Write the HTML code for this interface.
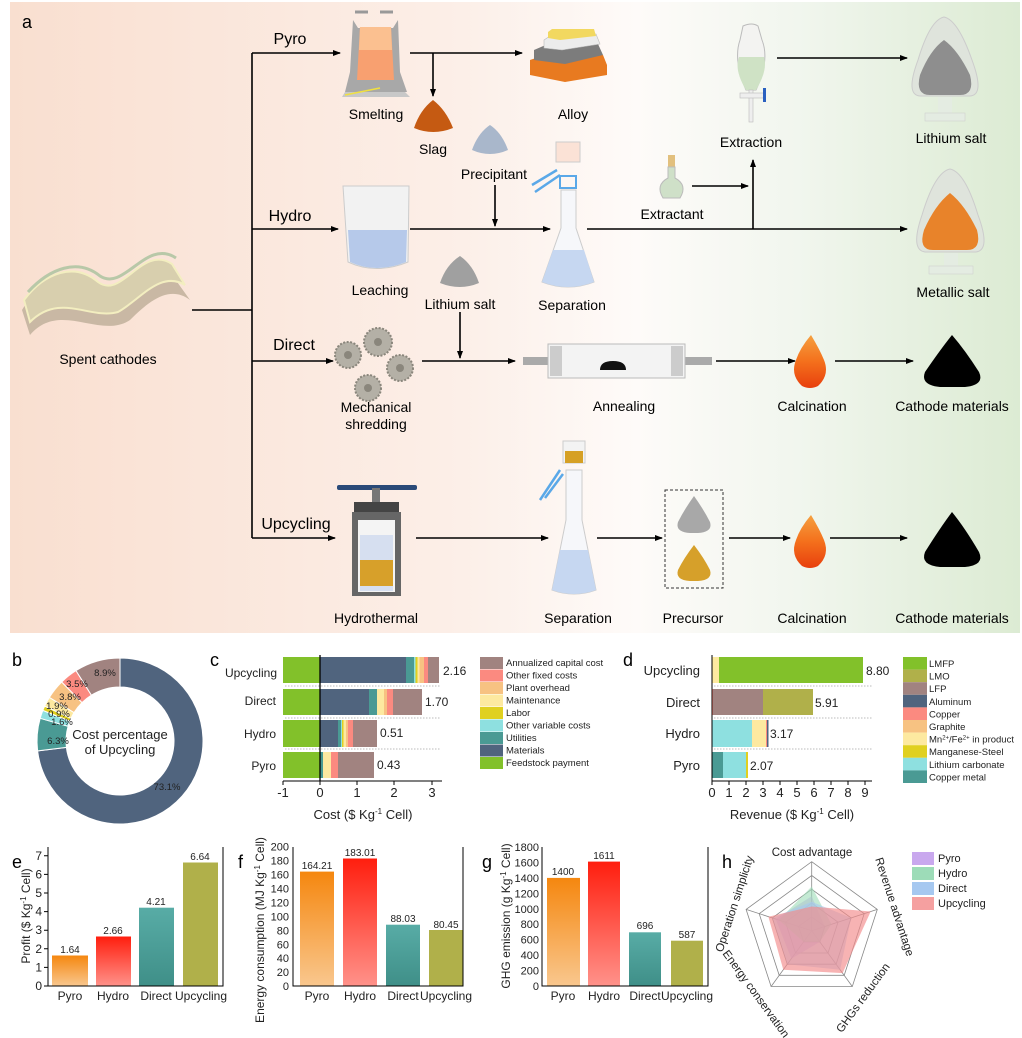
<!DOCTYPE html>
<html><head><meta charset="utf-8"><style>
html,body{margin:0;padding:0;background:#fff}
svg{display:block;font-family:"Liberation Sans",Arial,sans-serif}
</style></head><body>
<svg width="1022" height="1038" viewBox="0 0 1022 1038" xmlns="http://www.w3.org/2000/svg">
<defs>
<linearGradient id="bg" x1="0" x2="1" y1="0" y2="0">
<stop offset="0" stop-color="#f9dfd0"/><stop offset="0.45" stop-color="#fcefe8"/><stop offset="0.62" stop-color="#fefbf9"/><stop offset="0.78" stop-color="#f1f6ee"/><stop offset="1" stop-color="#dcebd3"/></linearGradient>
<marker id="ar" markerWidth="8" markerHeight="8" refX="7" refY="4" orient="auto" markerUnits="userSpaceOnUse"><path d="M0,1 L8,4 L0,7 Z" fill="#000"/></marker>
<linearGradient id="gO" x1="0" x2="0" y1="0" y2="1"><stop offset="0" stop-color="#f5870f"/><stop offset="1" stop-color="#f9c78e"/></linearGradient>
<linearGradient id="gR" x1="0" x2="0" y1="0" y2="1"><stop offset="0" stop-color="#ff1e0e"/><stop offset="1" stop-color="#ff928a"/></linearGradient>
<linearGradient id="gT" x1="0" x2="0" y1="0" y2="1"><stop offset="0" stop-color="#58aca6"/><stop offset="1" stop-color="#3f8f88"/></linearGradient>
<linearGradient id="gF" x1="0" x2="0" y1="0" y2="1"><stop offset="0" stop-color="#f5a040"/><stop offset="0.5" stop-color="#f4701c"/><stop offset="1" stop-color="#e8400e"/></linearGradient>
</defs>

<rect x="10" y="2" width="1010" height="631" fill="url(#bg)"/>
<text x="22" y="28" font-size="18">a</text>

<path d="M22,310 C40,280 70,270 95,290 C120,305 140,250 170,272 L190,300 C170,285 150,300 130,320 C100,340 60,300 30,335 Z" fill="#c9b8a4"/>
<path d="M24,300 C45,272 75,262 98,282 C122,300 142,244 172,264 L185,285 C160,270 140,300 118,312 C90,320 60,292 30,322 Z" fill="#d8cfae" stroke="#f3eec0" stroke-width="2"/>
<path d="M28,292 C50,268 78,258 100,276 C124,292 146,238 176,258" fill="none" stroke="#b8c8a8" stroke-width="3"/>
<text x="108" y="364" font-size="14" text-anchor="middle">Spent cathodes</text>

<g stroke="#000" stroke-width="1.6" fill="none">
<path d="M192,310 H252"/>
<path d="M252,53 V538"/>
<path d="M252,53 H340" marker-end="url(#ar)"/>
<path d="M252,229 H338" marker-end="url(#ar)"/>
<path d="M252,361 H333" marker-end="url(#ar)"/>
<path d="M252,538 H335" marker-end="url(#ar)"/>
<path d="M410,53 H522" marker-end="url(#ar)"/>
<path d="M433,53 V96" marker-end="url(#ar)"/>
<path d="M777,58 H907" marker-end="url(#ar)"/>
<path d="M410,229 H550" marker-end="url(#ar)"/>
<path d="M495,185 V226" marker-end="url(#ar)"/>
<path d="M587,229 H907" marker-end="url(#ar)"/>
<path d="M692,186 H748" marker-end="url(#ar)"/>
<path d="M753,229 V160" marker-end="url(#ar)"/>
<path d="M422,361 H515" marker-end="url(#ar)"/>
<path d="M460,312 V358" marker-end="url(#ar)"/>
<path d="M716,361 H795" marker-end="url(#ar)"/>
<path d="M835,361 H913" marker-end="url(#ar)"/>
<path d="M416,538 H548" marker-end="url(#ar)"/>
<path d="M597,538 H662" marker-end="url(#ar)"/>
<path d="M729,538 H790" marker-end="url(#ar)"/>
<path d="M830,538 H907" marker-end="url(#ar)"/>
</g>

<text x="290" y="44" font-size="16" text-anchor="middle">Pyro</text>
<text x="290" y="221" font-size="16" text-anchor="middle">Hydro</text>
<text x="294" y="350" font-size="16" text-anchor="middle">Direct</text>
<text x="296" y="529" font-size="16" text-anchor="middle">Upcycling</text>

<path d="M355,12 H368 M380,12 H393" stroke="#999" stroke-width="3"/>
<path d="M353,20 L358,28 H393 L398,20 L400,72 L407,92 H345 L350,72 Z" fill="#a8a8a8"/>
<path d="M360,27 H391 L394,80 H357 Z" fill="#f8a070"/>
<path d="M360,27 H391 L392,50 H359 Z" fill="#fbc090"/>
<path d="M345,92 H405 L410,97 H342 Z" fill="#c8c8c8"/>
<path d="M345,95 L380,88" stroke="#f0e040" stroke-width="1.5"/>
<text x="376" y="119" font-size="14" text-anchor="middle">Smelting</text>

<path d="M414,128 Q420,110 433,100 Q446,110 453,128 Q433,136 414,128 Z" fill="#c55a12"/>
<text x="433" y="154" font-size="14" text-anchor="middle">Slag</text>

<path d="M530,60 L545,55 H603 L607,65 L607,75 L565,82 L530,75 Z" fill="#e87a20"/>
<path d="M534,50 L548,44 H598 L603,55 L565,64 L534,60 Z" fill="#7c7c7c"/>
<path d="M544,40 L553,34 H596 L600,44 L562,50 L544,48 Z" fill="#ececec" stroke="#bbb" stroke-width="0.6"/>
<path d="M548,32 L552,29 H594 L596,36 L560,40 L548,38 Z" fill="#f2d860"/>
<text x="573" y="119" font-size="14" text-anchor="middle">Alloy</text>

<path d="M472,150 Q478,133 490,125 Q502,133 508,150 Q490,158 472,150 Z" fill="#a9b7cb"/>
<text x="494" y="179" font-size="14" text-anchor="middle">Precipitant</text>

<path d="M343,186 H409 L408,262 Q376,275 348,262 Z" fill="#f2f2f2" stroke="#ccc"/>
<path d="M348,230 H407 L406,262 Q376,274 350,262 Z" fill="#b6c9ea"/>
<text x="380" y="295" font-size="14" text-anchor="middle">Leaching</text>

<path d="M440,283 Q446,265 460,256 Q473,265 479,283 Q460,291 440,283 Z" fill="#a0a0a0"/>
<text x="460" y="309" font-size="14" text-anchor="middle">Lithium salt</text>

<rect x="556" y="142" width="24" height="20" fill="#fbe2d6" stroke="#ccc"/>
<path d="M532,185 L557,170 M535,192 L560,175" stroke="#5aa8e8" stroke-width="2.5"/>
<rect x="560" y="176" width="16" height="12" fill="none" stroke="#5aa8e8" stroke-width="2"/>
<path d="M561,190 H576 V228 L594,282 Q568,292 542,282 L561,228 Z" fill="#f6f7fa" stroke="#ccc"/>
<path d="M553,250 H584 L594,282 Q568,292 542,282 Z" fill="#c6d7f1"/>
<text x="572" y="310" font-size="14" text-anchor="middle">Separation</text>

<rect x="668" y="155" width="7" height="12" fill="#e2c07e"/>
<path d="M668,167 H675 V178 Q688,185 680,198 H663 Q655,185 668,178 Z" fill="#cfe0c8" stroke="#bbb"/>
<text x="672" y="219" font-size="14" text-anchor="middle">Extractant</text>

<path d="M743,26 Q752,22 758,26 L762,40 Q770,60 756,90 H746 Q733,60 740,40 Z" fill="#f3f3f1" stroke="#bbb"/>
<path d="M739,57 H764 Q768,70 756,90 H746 Q734,70 739,57 Z" fill="#cfe2c5"/>
<rect x="749" y="90" width="4" height="32" fill="#eee" stroke="#bbb" stroke-width="0.6"/>
<rect x="740" y="93" width="25" height="5" fill="#eee" stroke="#bbb" stroke-width="0.6"/>
<rect x="763" y="88" width="3" height="14" fill="#2a60c0"/>
<text x="751" y="147" font-size="14" text-anchor="middle">Extraction</text>

<path d="M944,17 Q930,20 918,60 Q905,95 920,96 H970 Q985,95 972,60 Q958,20 944,17 Z" fill="#dfe4dc" stroke="#ccc"/>
<path d="M944,40 Q930,50 920,75 Q915,95 930,95 H960 Q975,95 970,75 Q958,50 944,40 Z" fill="#8e8e8e"/>
<rect x="938" y="97" width="14" height="16" fill="#e4ece2"/>
<rect x="925" y="113" width="40" height="8" fill="#e4ece2" stroke="#ccc" stroke-width="0.5"/>
<text x="951" y="143" font-size="14" text-anchor="middle">Lithium salt</text>

<path d="M950,169 Q935,172 922,215 Q910,250 925,252 H976 Q991,250 978,215 Q965,172 950,169 Z" fill="#dfe4dc" stroke="#ccc"/>
<path d="M950,193 Q935,205 924,230 Q918,250 933,250 H967 Q982,250 977,230 Q965,205 950,193 Z" fill="#e8832a"/>
<rect x="944" y="253" width="14" height="14" fill="#e4ece2"/>
<rect x="929" y="266" width="44" height="8" fill="#e4ece2" stroke="#ccc" stroke-width="0.5"/>
<text x="953" y="297" font-size="14" text-anchor="middle">Metallic salt</text>

<g fill="#b4b0a6" stroke="#8a867c" stroke-width="2" stroke-dasharray="2 1.5">
<circle cx="348" cy="355" r="13"/><circle cx="378" cy="342" r="14"/><circle cx="400" cy="368" r="13"/><circle cx="368" cy="388" r="13"/>
</g>
<g fill="#8a867c"><circle cx="348" cy="355" r="4"/><circle cx="378" cy="342" r="4"/><circle cx="400" cy="368" r="4"/><circle cx="368" cy="388" r="4"/></g>
<text x="376" y="412" font-size="14" text-anchor="middle">Mechanical</text>
<text x="376" y="429" font-size="14" text-anchor="middle">shredding</text>

<rect x="523" y="357" width="28" height="8" fill="#aaa"/>
<rect x="684" y="357" width="28" height="8" fill="#aaa"/>
<rect x="548" y="344" width="137" height="34" fill="#f3f3f3" stroke="#bbb"/>
<rect x="550" y="346" width="12" height="30" fill="#ccc"/>
<rect x="671" y="346" width="12" height="30" fill="#ccc"/>
<path d="M600,370 Q600,361 613,361 Q626,361 626,370 Z" fill="#111"/>
<text x="624" y="411" font-size="14" text-anchor="middle">Annealing</text>

<path d="M811,335 Q820,350 824,360 Q830,375 818,386 Q810,390 802,386 Q790,375 796,360 Q800,348 811,335 Z" fill="url(#gF)"/>
<path d="M811,515 Q820,530 824,540 Q830,555 818,566 Q810,570 802,566 Q790,555 796,540 Q800,528 811,515 Z" fill="url(#gF)"/>
<text x="812" y="411" font-size="14" text-anchor="middle">Calcination</text>
<text x="812" y="623" font-size="14" text-anchor="middle">Calcination</text>

<path d="M952,335 Q940,350 925,372 Q920,385 940,387 H965 Q985,385 979,372 Q965,350 952,335 Z" fill="#000"/>
<path d="M952,512 Q940,528 925,552 Q920,565 940,567 H965 Q985,565 979,552 Q965,528 952,512 Z" fill="#000"/>
<text x="952" y="411" font-size="14" text-anchor="middle">Cathode materials</text>
<text x="952" y="623" font-size="14" text-anchor="middle">Cathode materials</text>

<rect x="337" y="485" width="80" height="5" rx="2" fill="#2a4a78"/>
<rect x="372" y="488" width="8" height="14" fill="#777"/>
<rect x="354" y="502" width="45" height="10" fill="#444"/>
<rect x="352" y="512" width="49" height="84" fill="#666"/>
<rect x="358" y="520" width="37" height="72" fill="#f4f4f4"/>
<rect x="360" y="535" width="33" height="56" fill="#d6dff0"/>
<rect x="360" y="560" width="33" height="26" fill="#d7a02a"/>
<text x="376" y="623" font-size="14" text-anchor="middle">Hydrothermal</text>

<rect x="563" y="441" width="22" height="22" fill="#f3f3f3" stroke="#ccc"/>
<rect x="565" y="451" width="18" height="12" fill="#d6a024"/>
<path d="M540,500 L560,470 M545,498 L563,474" stroke="#5aa8e8" stroke-width="2.5"/>
<path d="M566,470 H582 V520 L596,590 Q574,598 552,590 L566,520 Z" fill="#f6f7fa" stroke="#ccc"/>
<path d="M560,550 H588 L596,590 Q574,598 552,590 Z" fill="#c6d7f1"/>
<text x="578" y="623" font-size="14" text-anchor="middle">Separation</text>

<rect x="665" y="490" width="58" height="98" fill="none" stroke="#333" stroke-dasharray="3 2"/>
<path d="M694,496 Q684,510 678,522 Q675,532 690,533 H698 Q713,532 710,522 Q704,510 694,496 Z" fill="#a8a8a8"/>
<path d="M694,545 Q684,558 678,570 Q675,580 690,581 H698 Q713,580 710,570 Q704,558 694,545 Z" fill="#d6a02a"/>
<text x="693" y="623" font-size="14" text-anchor="middle">Precursor</text>

<!-- Panel b -->
<text x="12" y="666" font-size="18">b</text>
<g stroke="#fff" stroke-width="1">
<path d="M120,658 A83,83 0 1 1 37.6,750.9 L66.4,747.4 A54,54 0 1 0 120,687 Z" fill="#50647e"/>
<path d="M37.6,750.9 A83,83 0 0 1 40.2,718.3 L68.1,726.3 A54,54 0 0 0 66.4,747.4 Z" fill="#4a9a94"/>
<path d="M40.2,718.3 A83,83 0 0 1 42.8,710.4 L69.8,721.1 A54,54 0 0 0 68.1,726.3 Z" fill="#8ee0e0"/>
<path d="M42.8,710.4 A83,83 0 0 1 44.7,706.1 L71.0,718.3 A54,54 0 0 0 69.8,721.1 Z" fill="#e0d020"/>
<path d="M44.7,706.1 A83,83 0 0 1 49.4,697.4 L74.0,712.6 A54,54 0 0 0 71.0,718.3 Z" fill="#fde9a0"/>
<path d="M49.4,697.4 A83,83 0 0 1 61.7,682.0 L82.0,702.6 A54,54 0 0 0 74.0,712.6 Z" fill="#f7c282"/>
<path d="M61.7,682.0 A83,83 0 0 1 76.0,670.6 L91.4,695.2 A54,54 0 0 0 82.0,702.6 Z" fill="#fb8a80"/>
<path d="M76.0,670.6 A83,83 0 0 1 120,658 L120,687 A54,54 0 0 0 91.4,695.2 Z" fill="#a18380"/>
</g>
<g font-size="9.5" fill="#222" text-anchor="middle">
<text x="167" y="790">73.1%</text><text x="58" y="744">6.3%</text><text x="62" y="725">1.6%</text><text x="59" y="717">0.9%</text><text x="57" y="709">1.9%</text><text x="70" y="700">3.8%</text><text x="77" y="687">3.5%</text><text x="105" y="676">8.9%</text>
</g>
<text x="120" y="739" font-size="13" text-anchor="middle" fill="#222">Cost percentage</text>
<text x="120" y="754" font-size="13" text-anchor="middle" fill="#222">of Upcycling</text>

<!-- Panel c -->
<text x="210" y="666" font-size="18">c</text>
<g>
<rect x="283" y="657" width="37" height="26" fill="#82c12a"/><rect x="320" y="657" width="86" height="26" fill="#50647e"/><rect x="406" y="657" width="8" height="26" fill="#4a9a94"/><rect x="414" y="657" width="1.5" height="26" fill="#8ee0e0"/><rect x="415.5" y="657" width="2" height="26" fill="#e0d020"/><rect x="417.5" y="657" width="2" height="26" fill="#fde9a0"/><rect x="419.5" y="657" width="4.5" height="26" fill="#f7c282"/><rect x="424" y="657" width="4" height="26" fill="#fb8a80"/><rect x="428" y="657" width="11" height="26" fill="#a18380"/>
<rect x="283" y="689" width="37" height="26" fill="#82c12a"/><rect x="320" y="689" width="49" height="26" fill="#50647e"/><rect x="369" y="689" width="8" height="26" fill="#4a9a94"/><rect x="377" y="689" width="7" height="26" fill="#fde9a0"/><rect x="384" y="689" width="3" height="26" fill="#f7c282"/><rect x="387" y="689" width="6" height="26" fill="#fb8a80"/><rect x="393" y="689" width="29" height="26" fill="#a18380"/>
<rect x="283" y="720" width="37" height="27" fill="#82c12a"/><rect x="320" y="720" width="18" height="27" fill="#50647e"/><rect x="338" y="720" width="3" height="27" fill="#4a9a94"/><rect x="341" y="720" width="1" height="27" fill="#8ee0e0"/><rect x="342" y="720" width="1.5" height="27" fill="#e0d020"/><rect x="343.5" y="720" width="2.5" height="27" fill="#fde9a0"/><rect x="346" y="720" width="2" height="27" fill="#f7c282"/><rect x="348" y="720" width="5" height="27" fill="#fb8a80"/><rect x="353" y="720" width="24" height="27" fill="#a18380"/>
<rect x="283" y="752" width="37" height="26" fill="#82c12a"/><rect x="320" y="752" width="3" height="26" fill="#4a9a94"/><rect x="323" y="752" width="8" height="26" fill="#fde9a0"/><rect x="331" y="752" width="7" height="26" fill="#fb8a80"/><rect x="338" y="752" width="36" height="26" fill="#a18380"/>
</g>
<g stroke="#bbb" stroke-dasharray="1.5 1.5"><path d="M285,686 H440 M285,718 H440 M285,749 H440"/></g>
<path d="M320,655 V781" stroke="#000" stroke-width="1.3"/>
<path d="M283,781 H442" stroke="#000" stroke-width="1"/>
<g stroke="#000"><path d="M283,781 v4 M320,781 v4 M357,781 v4 M394,781 v4 M432,781 v4"/></g>
<g font-size="13" text-anchor="middle" fill="#222"><text x="283" y="797">-1</text><text x="320" y="797">0</text><text x="357" y="797">1</text><text x="394" y="797">2</text><text x="432" y="797">3</text></g>
<text x="363" y="819" font-size="13" text-anchor="middle" fill="#222">Cost ($ Kg<tspan dy="-5" font-size="8">-1</tspan><tspan dy="5"> Cell)</tspan></text>
<g font-size="12" text-anchor="end" fill="#222"><text x="277" y="677">Upcycling</text><text x="276" y="705">Direct</text><text x="276" y="738">Hydro</text><text x="276" y="770">Pyro</text></g>
<g font-size="12" fill="#222"><text x="443" y="675">2.16</text><text x="425" y="706">1.70</text><text x="380" y="737">0.51</text><text x="377" y="769">0.43</text></g>
<g>
<rect x="480" y="657" width="23" height="12" fill="#a18380"/><rect x="480" y="669.5" width="23" height="12" fill="#fb8a80"/><rect x="480" y="682" width="23" height="12" fill="#f7c282"/><rect x="480" y="694.5" width="23" height="12" fill="#fde9a0"/><rect x="480" y="707" width="23" height="12" fill="#e0d020"/><rect x="480" y="719.5" width="23" height="12" fill="#8ee0e0"/><rect x="480" y="732" width="23" height="12" fill="#4a9a94"/><rect x="480" y="744.5" width="23" height="12" fill="#50647e"/><rect x="480" y="757" width="23" height="12" fill="#82c12a"/>
</g>
<g font-size="9.5" fill="#222"><text x="506" y="666">Annualized capital cost</text><text x="506" y="678.5">Other fixed costs</text><text x="506" y="691">Plant overhead</text><text x="506" y="703.5">Maintenance</text><text x="506" y="716">Labor</text><text x="506" y="728.5">Other variable costs</text><text x="506" y="741">Utilities</text><text x="506" y="753.5">Materials</text><text x="506" y="766">Feedstock payment</text></g>

<!-- Panel d -->
<text x="623" y="666" font-size="18">d</text>
<rect x="712" y="657" width="7" height="26" fill="#fde9a0"/><rect x="719" y="657" width="144" height="26" fill="#82c12a"/>
<rect x="712" y="689" width="1" height="26" fill="#fb8a80"/><rect x="713" y="689" width="50" height="26" fill="#a18380"/><rect x="763" y="689" width="50" height="26" fill="#b0b04a"/>
<rect x="712" y="720" width="40" height="27" fill="#8ee0e0"/><rect x="752" y="720" width="14" height="27" fill="#fde9a0"/><rect x="766" y="720" width="1" height="27" fill="#fb8a80"/><rect x="767" y="720" width="1.5" height="27" fill="#50647e"/>
<rect x="712" y="752" width="11" height="26" fill="#4a9a94"/><rect x="723" y="752" width="23" height="26" fill="#8ee0e0"/><rect x="746" y="752" width="2" height="26" fill="#e0d020"/>
<g stroke="#bbb" stroke-dasharray="1.5 1.5"><path d="M714,686 H872 M714,718 H872 M714,749 H872"/></g>
<path d="M712,655 V781 H872" stroke="#000" fill="none"/>
<g stroke="#000"><path d="M712,781v4M729,781v4M746,781v4M763,781v4M780,781v4M797,781v4M814,781v4M831,781v4M848,781v4M865,781v4"/></g>
<g font-size="13" text-anchor="middle" fill="#222"><text x="712" y="797">0</text><text x="729" y="797">1</text><text x="746" y="797">2</text><text x="763" y="797">3</text><text x="780" y="797">4</text><text x="797" y="797">5</text><text x="814" y="797">6</text><text x="831" y="797">7</text><text x="848" y="797">8</text><text x="865" y="797">9</text></g>
<text x="792" y="819" font-size="13" text-anchor="middle" fill="#222">Revenue ($ Kg<tspan dy="-5" font-size="8">-1</tspan><tspan dy="5"> Cell)</tspan></text>
<g font-size="13" text-anchor="end" fill="#222"><text x="700" y="675">Upcycling</text><text x="700" y="707">Direct</text><text x="700" y="738">Hydro</text><text x="700" y="770">Pyro</text></g>
<g font-size="12" fill="#222"><text x="866" y="675">8.80</text><text x="815" y="707">5.91</text><text x="770" y="738">3.17</text><text x="750" y="770">2.07</text></g>
<g>
<rect x="903" y="657" width="24" height="12.6" fill="#82c12a"/><rect x="903" y="669.6" width="24" height="12.6" fill="#b0b04a"/><rect x="903" y="682.2" width="24" height="12.6" fill="#a18380"/><rect x="903" y="694.8" width="24" height="12.6" fill="#50647e"/><rect x="903" y="707.4" width="24" height="12.6" fill="#fb8a80"/><rect x="903" y="720" width="24" height="12.6" fill="#f7c282"/><rect x="903" y="732.6" width="24" height="12.6" fill="#fde9a0"/><rect x="903" y="745.2" width="24" height="12.6" fill="#e0d020"/><rect x="903" y="757.8" width="24" height="12.6" fill="#8ee0e0"/><rect x="903" y="770.4" width="24" height="12.6" fill="#4a9a94"/>
</g>
<g font-size="9.5" fill="#222"><text x="929" y="667">LMFP</text><text x="929" y="679.6">LMO</text><text x="929" y="692.2">LFP</text><text x="929" y="704.8">Aluminum</text><text x="929" y="717.4">Copper</text><text x="929" y="730">Graphite</text><text x="929" y="742.6">Mn<tspan dy="-3" font-size="6">2+</tspan><tspan dy="3">/Fe</tspan><tspan dy="-3" font-size="6">2+</tspan><tspan dy="3"> in product</tspan></text><text x="929" y="755.2">Manganese-Steel</text><text x="929" y="767.8">Lithium carbonate</text><text x="929" y="780.4">Copper metal</text></g>

<!-- Panel e -->
<text x="12" y="868" font-size="18">e</text>
<rect x="52" y="955.5" width="36" height="30.5" fill="url(#gO)"/>
<rect x="96" y="936.5" width="35" height="49.5" fill="url(#gR)"/>
<rect x="139" y="907.7" width="35" height="78.3" fill="url(#gT)"/>
<rect x="183" y="862.5" width="35" height="123.5" fill="#b0b04a"/>
<path d="M48,847 V986 H223 V847" stroke="#000" fill="none"/>
<g stroke="#000"><path d="M48,986h-4M48,967.4h-4M48,948.8h-4M48,930.2h-4M48,911.6h-4M48,893h-4M48,874.4h-4M48,855.8h-4"/></g>
<g font-size="12" text-anchor="end" fill="#222"><text x="42" y="990">0</text><text x="42" y="971.4">1</text><text x="42" y="952.8">2</text><text x="42" y="934.2">3</text><text x="42" y="915.6">4</text><text x="42" y="897">5</text><text x="42" y="878.4">6</text><text x="42" y="859.8">7</text></g>
<g font-size="10" text-anchor="middle" fill="#222"><text x="70" y="953">1.64</text><text x="113" y="934">2.66</text><text x="156" y="905">4.21</text><text x="200" y="860">6.64</text></g>
<g font-size="12" text-anchor="middle" fill="#222"><text x="70" y="1000">Pyro</text><text x="113" y="1000">Hydro</text><text x="156" y="1000">Direct</text><text x="201" y="1000">Upcycling</text></g>
<text transform="translate(30,916) rotate(-90)" font-size="12" text-anchor="middle" fill="#222">Profit ($ Kg<tspan dy="-4" font-size="8">-1</tspan><tspan dy="4"> Cell)</tspan></text>

<!-- Panel f -->
<text x="238" y="868" font-size="18">f</text>
<rect x="300" y="871.6" width="34" height="114.4" fill="url(#gO)"/>
<rect x="343" y="858.5" width="34" height="127.5" fill="url(#gR)"/>
<rect x="386" y="924.7" width="34" height="61.3" fill="url(#gT)"/>
<rect x="429" y="930" width="34" height="56" fill="#b0b04a"/>
<path d="M293,847 V986 H463 V847" stroke="#000" fill="none"/>
<g font-size="11" text-anchor="end" fill="#222"><text x="289" y="990">0</text><text x="289" y="976">20</text><text x="289" y="962.2">40</text><text x="289" y="948.3">60</text><text x="289" y="934.3">80</text><text x="289" y="920.4">100</text><text x="289" y="906.5">120</text><text x="289" y="892.5">140</text><text x="289" y="878.6">160</text><text x="289" y="864.7">180</text><text x="289" y="850.7">200</text></g>
<g font-size="10" text-anchor="middle" fill="#222"><text x="317" y="869">164.21</text><text x="360" y="856">183.01</text><text x="403" y="922">88.03</text><text x="446" y="928">80.45</text></g>
<g font-size="12" text-anchor="middle" fill="#222"><text x="317" y="1000">Pyro</text><text x="360" y="1000">Hydro</text><text x="403" y="1000">Direct</text><text x="446" y="1000">Upcycling</text></g>
<text transform="translate(264,930) rotate(-90)" font-size="12" text-anchor="middle" fill="#222">Energy consumption (MJ Kg<tspan dy="-4" font-size="8">-1</tspan><tspan dy="4"> Cell)</tspan></text>

<!-- Panel g -->
<text x="482" y="868" font-size="18">g</text>
<rect x="547" y="877.9" width="33" height="108.1" fill="url(#gO)"/>
<rect x="588" y="861.6" width="32" height="124.4" fill="url(#gR)"/>
<rect x="629" y="932.3" width="32" height="53.7" fill="url(#gT)"/>
<rect x="671" y="940.7" width="32" height="45.3" fill="#b0b04a"/>
<path d="M542,847 V986 H708 V847" stroke="#000" fill="none"/>
<g font-size="11" text-anchor="end" fill="#222"><text x="539" y="990">0</text><text x="539" y="974.6">200</text><text x="539" y="959.1">400</text><text x="539" y="943.7">600</text><text x="539" y="928.2">800</text><text x="539" y="912.8">1000</text><text x="539" y="897.3">1200</text><text x="539" y="881.9">1400</text><text x="539" y="866.4">1600</text><text x="539" y="851">1800</text></g>
<g font-size="10" text-anchor="middle" fill="#222"><text x="563" y="875">1400</text><text x="604" y="859">1611</text><text x="645" y="929">696</text><text x="687" y="938">587</text></g>
<g font-size="12" text-anchor="middle" fill="#222"><text x="563" y="1000">Pyro</text><text x="604" y="1000">Hydro</text><text x="645" y="1000">Direct</text><text x="687" y="1000">Upcycling</text></g>
<text transform="translate(510,916) rotate(-90)" font-size="12" text-anchor="middle" fill="#222">GHG emission (g Kg<tspan dy="-4" font-size="8">-1</tspan><tspan dy="4"> Cell)</tspan></text>

<!-- Panel h -->
<text x="722" y="868" font-size="18">h</text>
<g fill="none" stroke="#888" stroke-width="0.8">
<polygon points="811.7,861.7 877.3,909.4 852.3,986.5 771.1,986.5 746.1,909.4"/>
<polygon points="811.7,875.5 864.2,913.7 844.2,975.3 779.2,975.3 759.2,913.7"/>
<polygon points="811.7,889.3 851.1,917.9 836.1,964.2 787.3,964.2 772.3,917.9"/>
<polygon points="811.7,903.1 838.0,922.2 828.0,953.0 795.5,953.0 785.5,922.2"/>
<polygon points="811.7,916.9 824.8,926.4 819.8,941.9 803.6,941.9 798.6,926.4"/>
<path d="M811.7,930.7 L811.7,861.7 M811.7,930.7 L877.3,909.4 M811.7,930.7 L852.3,986.5 M811.7,930.7 L771.1,986.5 M811.7,930.7 L746.1,909.4"/>
</g>
<polygon points="811.7,896.2 824.8,926.4 819.8,941.9 791.4,958.6 775.6,919.0" fill="#c9a8ee" fill-opacity="0.6"/>
<polygon points="811.7,886.5 831.4,924.3 819.8,941.9 803.6,941.9 778.9,920.0" fill="#9ddcb8" fill-opacity="0.6"/>
<polygon points="811.7,901.7 851.1,917.9 840.1,969.8 787.3,964.2 772.3,917.9" fill="#a6c8f0" fill-opacity="0.6"/>
<polygon points="811.7,906.5 870.7,911.5 842.6,973.1 783.3,969.8 768.4,916.7" fill="#f28a8a" fill-opacity="0.65"/>
<g font-size="11.5" fill="#222" text-anchor="middle">
<text x="812" y="856">Cost advantage</text>
<text transform="translate(891,908) rotate(72)">Revenue advantage</text>
<text transform="translate(866,1000) rotate(-54)">GHGs reduction</text>
<text transform="translate(753,996) rotate(54)">Energy conservation</text>
<text transform="translate(738,905) rotate(-72)">Operation simplicity</text>
</g>
<rect x="912" y="852" width="22" height="13" fill="#c9a8ee"/><rect x="912" y="867" width="22" height="13" fill="#9ddcb8"/><rect x="912" y="882" width="22" height="13" fill="#a6c8f0"/><rect x="912" y="897" width="22" height="13" fill="#f5a0a0"/>
<g font-size="11" fill="#222"><text x="938" y="862">Pyro</text><text x="938" y="877">Hydro</text><text x="938" y="892">Direct</text><text x="938" y="907">Upcycling</text></g>
</svg>
</body></html>
